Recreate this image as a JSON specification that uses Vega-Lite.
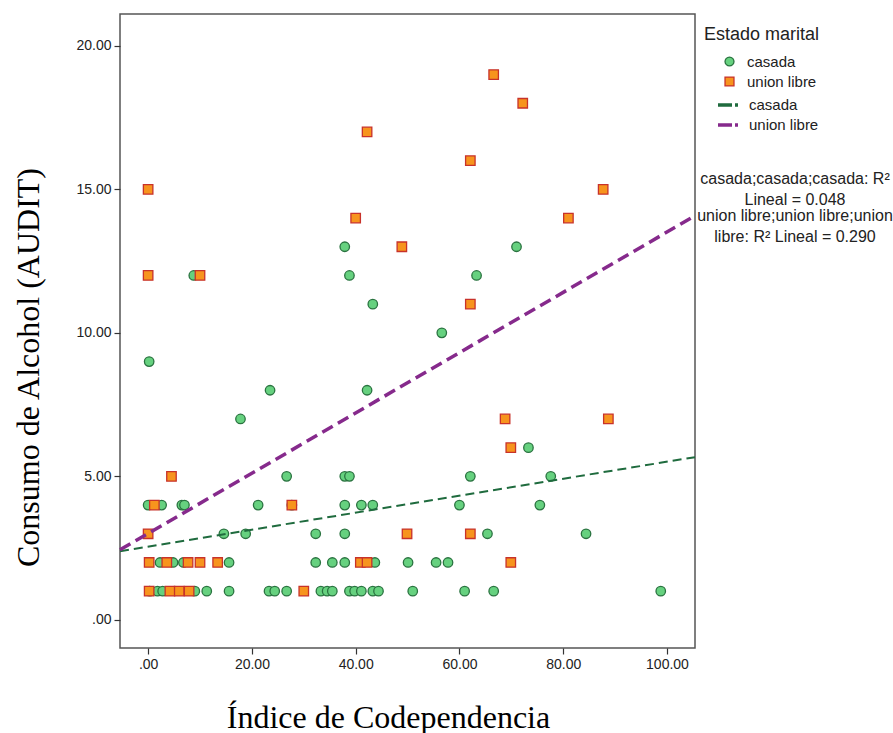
{
  "$schema": "https://vega.github.io/schema/vega-lite/v6.json",
  "width": 575,
  "height": 634,
  "autosize": {"type": "none"},
  "padding": {"left": 120, "top": 14, "right": 198, "bottom": 85},
  "background": "white",
  "config": {
    "view": {"stroke": "#555555", "strokeWidth": 1.5},
    "font": "Liberation Sans",
    "style": {"guide-label": {"lineHeight": 21}},
    "axis": {"grid": false, "domain": false, "tickColor": "#333333", "tickSize": 6, "tickWidth": 1.2, "labelFont": "Liberation Sans", "labelFontSize": 14, "labelColor": "#222222", "labelPadding": 3, "titleFont": "Liberation Serif", "titleFontSize": 32, "titleFontWeight": "normal", "titleColor": "#000000"},
    "legend": {"orient": "none", "padding": 0, "labelFont": "Liberation Sans", "labelColor": "#222222", "titleFont": "Liberation Sans", "titleColor": "#222222"}
  },
  "datasets": {
    "points": [
      {"x": 0.3, "y": 1, "estado": "casada"}, {"x": 1.8, "y": 1, "estado": "casada"}, {"x": 2.8, "y": 1, "estado": "casada"}, {"x": 9.0, "y": 1, "estado": "casada"}, {"x": 11.3, "y": 1, "estado": "casada"}, {"x": 15.6, "y": 1, "estado": "casada"}, {"x": 23.3, "y": 1, "estado": "casada"}, {"x": 24.4, "y": 1, "estado": "casada"}, {"x": 26.7, "y": 1, "estado": "casada"}, {"x": 33.3, "y": 1, "estado": "casada"}, {"x": 34.5, "y": 1, "estado": "casada"}, {"x": 35.5, "y": 1, "estado": "casada"}, {"x": 38.8, "y": 1, "estado": "casada"}, {"x": 39.8, "y": 1, "estado": "casada"}, {"x": 41.1, "y": 1, "estado": "casada"}, {"x": 43.3, "y": 1, "estado": "casada"}, {"x": 44.4, "y": 1, "estado": "casada"}, {"x": 51.0, "y": 1, "estado": "casada"}, {"x": 61.0, "y": 1, "estado": "casada"}, {"x": 66.6, "y": 1, "estado": "casada"}, {"x": 98.8, "y": 1, "estado": "casada"},
      {"x": 2.3, "y": 2, "estado": "casada"}, {"x": 4.8, "y": 2, "estado": "casada"}, {"x": 6.8, "y": 2, "estado": "casada"}, {"x": 15.6, "y": 2, "estado": "casada"}, {"x": 32.3, "y": 2, "estado": "casada"}, {"x": 35.5, "y": 2, "estado": "casada"}, {"x": 37.9, "y": 2, "estado": "casada"}, {"x": 43.7, "y": 2, "estado": "casada"}, {"x": 50.1, "y": 2, "estado": "casada"}, {"x": 55.5, "y": 2, "estado": "casada"}, {"x": 57.8, "y": 2, "estado": "casada"},
      {"x": 14.6, "y": 3, "estado": "casada"}, {"x": 18.8, "y": 3, "estado": "casada"}, {"x": 32.3, "y": 3, "estado": "casada"}, {"x": 37.9, "y": 3, "estado": "casada"}, {"x": 65.4, "y": 3, "estado": "casada"}, {"x": 84.4, "y": 3, "estado": "casada"},
      {"x": 0.0, "y": 4, "estado": "casada"}, {"x": 2.6, "y": 4, "estado": "casada"}, {"x": 6.5, "y": 4, "estado": "casada"}, {"x": 7.0, "y": 4, "estado": "casada"}, {"x": 21.2, "y": 4, "estado": "casada"}, {"x": 27.7, "y": 4, "estado": "casada"}, {"x": 37.9, "y": 4, "estado": "casada"}, {"x": 41.1, "y": 4, "estado": "casada"}, {"x": 43.3, "y": 4, "estado": "casada"}, {"x": 60.0, "y": 4, "estado": "casada"}, {"x": 75.5, "y": 4, "estado": "casada"},
      {"x": 26.7, "y": 5, "estado": "casada"}, {"x": 37.9, "y": 5, "estado": "casada"}, {"x": 38.8, "y": 5, "estado": "casada"}, {"x": 62.1, "y": 5, "estado": "casada"}, {"x": 77.6, "y": 5, "estado": "casada"},
      {"x": 73.3, "y": 6, "estado": "casada"},
      {"x": 17.8, "y": 7, "estado": "casada"},
      {"x": 23.5, "y": 8, "estado": "casada"}, {"x": 42.2, "y": 8, "estado": "casada"},
      {"x": 0.2, "y": 9, "estado": "casada"},
      {"x": 56.6, "y": 10, "estado": "casada"},
      {"x": 43.3, "y": 11, "estado": "casada"},
      {"x": 8.8, "y": 12, "estado": "casada"}, {"x": 38.8, "y": 12, "estado": "casada"}, {"x": 63.3, "y": 12, "estado": "casada"},
      {"x": 37.9, "y": 13, "estado": "casada"}, {"x": 71.0, "y": 13, "estado": "casada"},
      {"x": 0.2, "y": 1, "estado": "union libre"}, {"x": 4.2, "y": 1, "estado": "union libre"}, {"x": 6.0, "y": 1, "estado": "union libre"}, {"x": 7.9, "y": 1, "estado": "union libre"}, {"x": 30.0, "y": 1, "estado": "union libre"},
      {"x": 0.2, "y": 2, "estado": "union libre"}, {"x": 3.6, "y": 2, "estado": "union libre"}, {"x": 7.7, "y": 2, "estado": "union libre"}, {"x": 10.0, "y": 2, "estado": "union libre"}, {"x": 13.4, "y": 2, "estado": "union libre"}, {"x": 40.9, "y": 2, "estado": "union libre"}, {"x": 42.2, "y": 2, "estado": "union libre"}, {"x": 69.9, "y": 2, "estado": "union libre"},
      {"x": 0.0, "y": 3, "estado": "union libre"}, {"x": 49.9, "y": 3, "estado": "union libre"}, {"x": 62.1, "y": 3, "estado": "union libre"},
      {"x": 1.2, "y": 4, "estado": "union libre"}, {"x": 27.7, "y": 4, "estado": "union libre"},
      {"x": 4.5, "y": 5, "estado": "union libre"},
      {"x": 69.9, "y": 6, "estado": "union libre"},
      {"x": 68.8, "y": 7, "estado": "union libre"}, {"x": 88.7, "y": 7, "estado": "union libre"},
      {"x": 62.1, "y": 11, "estado": "union libre"},
      {"x": 0.0, "y": 12, "estado": "union libre"}, {"x": 10.0, "y": 12, "estado": "union libre"},
      {"x": 48.9, "y": 13, "estado": "union libre"},
      {"x": 40.0, "y": 14, "estado": "union libre"}, {"x": 81.0, "y": 14, "estado": "union libre"},
      {"x": 0.0, "y": 15, "estado": "union libre"}, {"x": 87.7, "y": 15, "estado": "union libre"},
      {"x": 62.1, "y": 16, "estado": "union libre"},
      {"x": 42.2, "y": 17, "estado": "union libre"},
      {"x": 72.2, "y": 18, "estado": "union libre"},
      {"x": 66.6, "y": 19, "estado": "union libre"}
    ],
    "fits": [
      {"x": -5.42, "y": 2.39, "linea": "casada", "r2": "casada;casada;casada: R²|Lineal = 0.048"},
      {"x": 105.4, "y": 5.67, "linea": "casada", "r2": "casada;casada;casada: R²|Lineal = 0.048"},
      {"x": -5.42, "y": 2.44, "linea": "union libre", "r2": "union libre;union libre;union|libre: R² Lineal = 0.290"},
      {"x": 105.4, "y": 14.08, "linea": "union libre", "r2": "union libre;union libre;union|libre: R² Lineal = 0.290"}
    ]
  },
  "encoding": {
    "x": {"field": "x", "type": "quantitative", "scale": {"domain": [-5.42, 105.4], "nice": false, "zero": false}, "axis": {"values": [0, 20, 40, 60, 80, 100], "labelExpr": "datum.value == 0 ? '.00' : format(datum.value, '.2f')", "title": "Índice de Codependencia", "titlePadding": 31, "titleX": 268}},
    "y": {"field": "y", "type": "quantitative", "scale": {"domain": [-0.98, 21.11], "nice": false, "zero": false}, "axis": {"values": [0, 5, 10, 15, 20], "labelExpr": "datum.value == 0 ? '.00' : format(datum.value, '.2f')", "title": "Consumo de Alcohol (AUDIT)", "titlePadding": 30, "titleY": 353}}
  },
  "layer": [
    {
      "data": {"name": "points"},
      "mark": {"type": "point", "filled": true, "size": 90, "strokeWidth": 1.3, "opacity": 1},
      "encoding": {
        "shape": {"field": "estado", "type": "nominal", "scale": {"domain": ["casada", "union libre"], "range": ["circle", "square"]}, "legend": {"title": "Estado marital", "legendX": 584, "legendY": 12, "titleFontSize": 18, "titleFontWeight": "normal", "titlePadding": 10, "labelFontSize": 15, "symbolSize": 80, "symbolStrokeWidth": 1.3, "rowPadding": 4, "symbolOffset": 18, "labelOffset": 10}},
        "fill": {"field": "estado", "type": "nominal", "scale": {"domain": ["casada", "union libre"], "range": ["#66d17f", "#f7941d"]}, "legend": {"title": "Estado marital", "legendX": 584, "legendY": 12, "titleFontSize": 18, "titleFontWeight": "normal", "titlePadding": 10, "labelFontSize": 15, "symbolSize": 80, "symbolStrokeWidth": 1.3, "rowPadding": 4, "symbolOffset": 18, "labelOffset": 10}},
        "stroke": {"field": "estado", "type": "nominal", "scale": {"domain": ["casada", "union libre"], "range": ["#2a7340", "#c8322a"]}, "legend": {"title": "Estado marital", "legendX": 584, "legendY": 12, "titleFontSize": 18, "titleFontWeight": "normal", "titlePadding": 10, "labelFontSize": 15, "symbolSize": 80, "symbolStrokeWidth": 1.3, "rowPadding": 4, "symbolOffset": 18, "labelOffset": 10}}
      }
    },
    {
      "data": {"name": "fits"},
      "transform": [{"filter": "datum.linea == 'casada'"}],
      "mark": {"type": "line", "strokeDash": [9, 5], "strokeWidth": 2},
      "encoding": {
        "color": {"field": "linea", "type": "nominal", "scale": {"range": ["#1f6b3e", "#862a8c"]}, "legend": {"title": null, "legendX": 596, "legendY": 79, "labelFontSize": 15, "symbolType": "stroke", "symbolStrokeWidth": 3.5, "symbolDash": [14, 3], "symbolSize": 400, "rowPadding": 0, "labelOffset": 9}},
        "opacity": {"field": "r2", "type": "ordinal", "scale": {"range": [1, 1]}, "legend": {"title": null, "legendX": 659, "legendY": 157, "labelFontSize": 16, "labelAlign": "center", "labelLimit": 400, "symbolOpacity": 0, "symbolStrokeWidth": 0, "symbolSize": 0, "labelOffset": 0, "rowPadding": 0, "labelExpr": "split(datum.label, '|')"}}
      }
    },
    {
      "data": {"name": "fits"},
      "transform": [{"filter": "datum.linea == 'union libre'"}],
      "mark": {"type": "line", "strokeDash": [12, 6], "strokeWidth": 3.5},
      "encoding": {
        "color": {"field": "linea", "type": "nominal"},
        "opacity": {"field": "r2", "type": "ordinal"}
      }
    }
  ]
}
